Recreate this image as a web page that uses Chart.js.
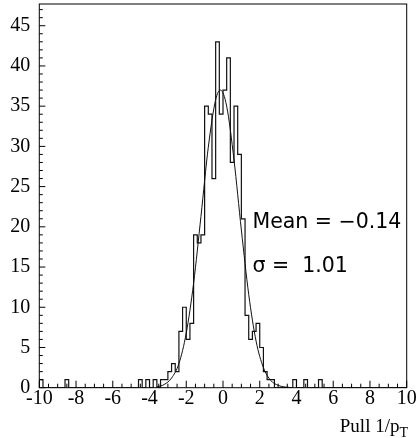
<!DOCTYPE html>
<html>
<head>
<meta charset="utf-8">
<script src="https://cdn.jsdelivr.net/npm/chart.js@4.4.1/dist/chart.umd.min.js"></script>
<style>
  html, body { margin: 0; padding: 0; background: #fff; }
  #wrap { width: 417px; height: 438px; }
</style>
</head>
<body>
<div id="wrap"><canvas id="pull_chart"></canvas></div>
<script>
// pull 1/pT histogram, 100 bins of 0.2 between -10 and 10
const binLow = -10;
const binWidth = 0.2;
const counts = [
    1, 0, 0, 0, 0, 0, 0, 1, 0, 0,        // -10 .. -8
    0, 0, 0, 0, 0, 0, 0, 0, 0, 0,        // -8 .. -6
    0, 0, 0, 0, 0, 0, 0, 1, 0, 1,        // -6 .. -4
    0, 1, 0, 1, 1, 2, 3, 2, 7, 10,       // -4 .. -2
    6, 8, 19, 18, 19, 35, 34, 26, 43, 34, // -2 .. 0
    37, 41, 28, 35, 29, 21, 9, 6, 7, 8,  // 0 .. 2
    5, 2, 1, 1, 0, 0, 0, 0, 0, 1,        // 2 .. 4
    0, 0, 1, 0, 0, 0, 1, 0, 0, 0,        // 4 .. 6
    0, 0, 0, 0, 0, 0, 0, 0, 0, 0,        // 6 .. 8
    0, 0, 0, 0, 0, 0, 0, 0, 0, 0         // 8 .. 10
];

// gaussian fit curve
const fitX = [-3.6, -3.2, -2.8, -2.4, -2.0, -1.6, -1.2, -0.8, -0.4, -0.14, 0.2, 0.6, 1.0, 1.4, 1.8, 2.2, 2.6, 3.0, 3.4, 3.6];
const fitY = [0.1, 0.4, 1.2, 3.0, 6.8, 13.0, 21.3, 29.9, 35.8, 37.0, 35.0, 28.3, 19.6, 11.6, 5.8, 2.5, 0.9, 0.3, 0.08, 0.04];

const fitMean = '\u22120.14';
const fitSigma = '1.01';

const xTicks = [-10, -8, -6, -4, -2, 0, 2, 4, 6, 8, 10];
const yTicks = [0, 5, 10, 15, 20, 25, 30, 35, 40, 45];

var histPoints = [{x: binLow, y: 0}];
counts.forEach(function(c, i) {
    histPoints.push({x: binLow + i * binWidth, y: c});
});
histPoints.push({x: binLow + counts.length * binWidth, y: 0});

var fitPoints = fitX.map(function(v, i) { return {x: v, y: fitY[i]}; });

function noScalePadding(scale) {
    scale.paddingTop = 0;
    scale.paddingBottom = 0;
    scale.paddingLeft = 0;
    scale.paddingRight = 0;
}

// frame, inward ticks, axis title and fit box text
const pullDecor = {
    id: 'pullDecor',
    afterDatasetsDraw(chart) {
        const ctx = chart.ctx;
        const a = chart.chartArea;
        const xs = chart.scales.x;
        const ys = chart.scales.y;
        ctx.save();
        ctx.strokeStyle = '#000';
        ctx.lineWidth = 1;
        ctx.strokeRect(a.left, a.top, a.right - a.left, a.bottom - a.top);

        ctx.beginPath();
        for (let i = -20; i <= 20; i++) {
            const px = xs.getPixelForValue(i / 2);
            const len = (Math.abs(i) % 4 === 0) ? 7 : 4;
            ctx.moveTo(px, a.bottom);
            ctx.lineTo(px, a.bottom - len);
        }
        for (let v = 0; v <= 47; v++) {
            const py = ys.getPixelForValue(v);
            const len = (v % 5 === 0) ? 6 : 3.5;
            ctx.moveTo(a.left, py);
            ctx.lineTo(a.left + len, py);
        }
        ctx.stroke();

        ctx.fillStyle = '#000';
        ctx.textBaseline = 'alphabetic';
        ctx.textAlign = 'left';
        ctx.font = '20.5px "DejaVu Sans"';
        ctx.fillText('Mean = ' + fitMean, 252.5, 228);
        ctx.fillText('\u03c3 =  ' + fitSigma, 252.5, 271.5);

        // axis title with subscript T
        ctx.font = '14px "Liberation Serif"';
        const subW = ctx.measureText('T').width;
        ctx.font = '19px "Liberation Serif"';
        const main = 'Pull 1/p';
        const mainW = ctx.measureText(main).width;
        const right = 408;
        ctx.fillText(main, right - subW - mainW, 432);
        ctx.font = '14px "Liberation Serif"';
        ctx.fillText('T', right - subW, 437);
        ctx.restore();
    }
};

var ctx = document.getElementById('pull_chart');
var pullChart = new Chart(ctx, {
    type: 'scatter',
    data: {
        datasets: [{
            label: 'Pull 1/pT',
            data: histPoints,
            showLine: true,
            stepped: true,
            borderColor: '#111',
            borderWidth: 1.2,
            pointRadius: 0,
            fill: false
        }, {
            label: 'Fit',
            data: fitPoints,
            showLine: true,
            cubicInterpolationMode: 'monotone',
            borderColor: '#111',
            borderWidth: 1,
            pointRadius: 0,
            fill: false
        }]
    },
    options: {
        animation: false,
        responsive: true,
        maintainAspectRatio: false,
        layout: {
            autoPadding: false,
            padding: {left: 0, top: 4, right: 10.3, bottom: 0}
        },
        plugins: {
            legend: {display: false},
            tooltip: {enabled: false}
        },
        scales: {
            x: {
                type: 'linear',
                min: -10,
                max: 10,
                afterFit: function(scale) {
                    scale.height = 50.3;
                    noScalePadding(scale);
                },
                afterBuildTicks: function(scale) {
                    scale.ticks = xTicks.map(function(v) { return {value: v}; });
                },
                grid: {display: false, drawTicks: false},
                border: {display: false},
                ticks: {
                    padding: 1,
                    maxRotation: 0,
                    autoSkip: false,
                    color: '#000',
                    font: {family: '"Liberation Serif"', size: 20, lineHeight: 1},
                    callback: function(v) { return String(v); }
                }
            },
            y: {
                type: 'linear',
                min: 0,
                max: 47.7,
                afterFit: function(scale) {
                    scale.width = 39.3;
                    noScalePadding(scale);
                },
                afterBuildTicks: function(scale) {
                    scale.ticks = yTicks.map(function(v) { return {value: v}; });
                },
                grid: {display: false, drawTicks: false},
                border: {display: false},
                ticks: {
                    padding: 9,
                    autoSkip: false,
                    color: '#000',
                    font: {family: '"Liberation Serif"', size: 20, lineHeight: 0.2},
                    callback: function(v) { return String(v); }
                }
            }
        }
    },
    plugins: [pullDecor]
});
</script>
</body>
</html>
